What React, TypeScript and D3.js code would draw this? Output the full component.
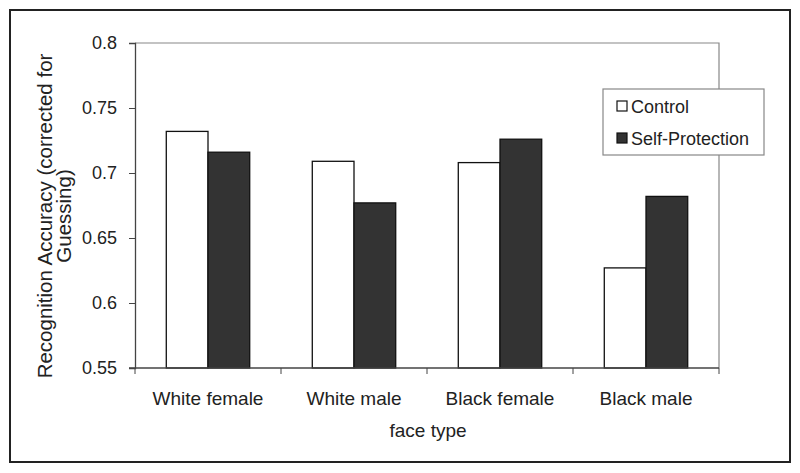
import React, { useEffect, useRef } from "react";
import * as d3 from "d3";

const categories = ["White female", "White male", "Black female", "Black male"];
const seriesNames = ["Control", "Self-Protection"];
const controlValues = [0.732, 0.709, 0.708, 0.627];
const selfProtectionValues = [0.716, 0.677, 0.726, 0.682];
const yTicks = [0.55, 0.6, 0.65, 0.7, 0.75, 0.8];
const seriesFill = ["#ffffff", "#333333"];

export default function App() {
    const svgRef = useRef<SVGSVGElement>(null);

    useEffect(() => {
        const svg = d3.select(svgRef.current);
        svg.selectAll("*").remove();

        const left = 135, right = 719, top = 43, bottom = 368;
        const font = "Liberation Sans, Arial, sans-serif";
        const textColor = "#222";

        // outer frame
        svg.append("rect").attr("x", 10).attr("y", 10).attr("width", 780).attr("height", 452)
            .attr("fill", "white").attr("stroke", "#222").attr("stroke-width", 2);

        const x = d3.scaleBand().domain(categories).range([left, right]);
        const y = d3.scaleLinear().domain([0.55, 0.8]).range([bottom, top]);
        const barW = x.bandwidth() / 3.5;

        // plot frame top/right
        svg.append("path")
            .attr("d", `M${left},${top}H${right}V${bottom}`)
            .attr("fill", "none").attr("stroke", "#888").attr("stroke-width", 1.2);

        const data = categories.map((c, i) => ({ c, vals: [controlValues[i], selfProtectionValues[i]] }));

        const g = svg.append("g");
        data.forEach(d => {
            d.vals.forEach((v, j) => {
                const cx = x(d.c)! + x.bandwidth() / 2;
                g.append("rect")
                    .attr("x", cx - barW + j * barW)
                    .attr("y", y(v))
                    .attr("width", barW)
                    .attr("height", y(0.55) - y(v))
                    .attr("fill", seriesFill[j])
                    .attr("stroke", "#111").attr("stroke-width", 1.3);
            });
        });

        // y axis
        const yAxis = svg.append("g").attr("transform", `translate(${left},0)`)
            .call(d3.axisLeft(y).tickValues(yTicks).tickSize(6).tickPadding(12)
                .tickFormat(d => d3.format("")(+(+d).toFixed(2))));
        yAxis.select(".domain").attr("stroke", "#444").attr("stroke-width", 1.3);
        yAxis.selectAll(".tick line").attr("stroke", "#444");
        yAxis.selectAll("text").attr("font-family", font).attr("font-size", 18).attr("fill", textColor);

        // x axis
        const xAxis = svg.append("g").attr("transform", `translate(0,${bottom})`);
        xAxis.append("line").attr("x1", left - 6).attr("x2", right).attr("stroke", "#444").attr("stroke-width", 1.3);
        const tickXs = categories.map(c => x(c)!).concat([right]);
        tickXs.forEach(tx => {
            xAxis.append("line").attr("x1", tx).attr("x2", tx).attr("y1", 0).attr("y2", 6)
                .attr("stroke", "#444");
        });
        categories.forEach(c => {
            xAxis.append("text").attr("x", x(c)! + x.bandwidth() / 2).attr("y", 37)
                .attr("text-anchor", "middle").attr("font-family", font).attr("font-size", 19)
                .attr("fill", textColor).text(c);
        });

        svg.append("text").attr("x", 428).attr("y", 437).attr("text-anchor", "middle")
            .attr("font-family", font).attr("font-size", 19).attr("fill", textColor).text("face type");

        const yl = svg.append("text").attr("transform", `translate(52,216) rotate(-90)`)
            .attr("text-anchor", "middle").attr("font-family", font).attr("font-size", 20.5).attr("fill", textColor);
        yl.append("tspan").attr("x", 0).attr("dy", 0).text("Recognition Accuracy (corrected for");
        yl.append("tspan").attr("x", 0).attr("dy", 19).text("Guessing)");

        // legend
        const lg = svg.append("g");
        lg.append("rect").attr("x", 603).attr("y", 89).attr("width", 161).attr("height", 66)
            .attr("fill", "white").attr("stroke", "#888").attr("stroke-width", 1.2);
        seriesNames.forEach((s, i) => {
            const cy = 106 + i * 32;
            lg.append("rect").attr("x", 617).attr("y", cy - 5).attr("width", 10).attr("height", 10)
                .attr("fill", seriesFill[i]).attr("stroke", "#111").attr("stroke-width", 1.2);
            lg.append("text").attr("x", 631).attr("y", cy + 7).attr("font-family", font)
                .attr("font-size", 18).attr("fill", textColor).text(s);
        });
    }, []);

    return <svg ref={svgRef} width={800} height={473} style={{ position: "absolute", left: 0, top: 0 }} />;
}
